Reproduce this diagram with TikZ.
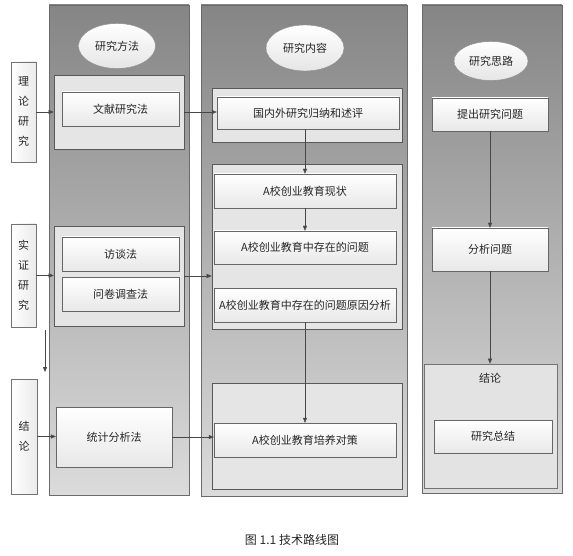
\documentclass[tikz,border=0pt]{standalone}
\usepackage{fontspec}
\newfontfamily\cjk{Noto Sans CJK SC}
\usepackage{tikz}
\usetikzlibrary{arrows.meta,shadows,shapes.geometric}
\definecolor{colgray}{HTML}{858585}
\definecolor{colpale}{HTML}{DBDBDB}
\definecolor{linegray}{HTML}{6A6A6A}
\definecolor{arrowgray}{HTML}{474747}

\begin{document}
\begin{tikzpicture}[x=1pt,y=-1pt,
    every node/.style={font=\cjk\fontsize{11}{20}\selectfont, inner sep=0pt, text=black!85},
    col/.style={draw=linegray, top color=colgray, bottom color=colpale},
    panel/.style={draw=black!65, fill=black!10, line width=0.6pt},
    box/.style={draw=black!60, top color=white, bottom color=black!9, drop shadow={opacity=0.25,shadow xshift=1pt,shadow yshift=-1pt}},
    oval/.style={ellipse, draw=black!45, top color=white, bottom color=black!10},
    side/.style={draw=black!55, left color=white, right color=black!8, align=center},
    arr/.style={draw=arrowgray, -{Triangle[length=5pt,width=4pt]}}]
    \useasboundingbox (0,0) rectangle (573,556);
    % columns
    \node[col, minimum width=140pt, minimum height=490pt] (colA) at (119,250) {};
    \node[col, minimum width=206pt, minimum height=491pt] (colB) at (304,250.5) {};
    \node[col, minimum width=140pt, minimum height=488pt] (colC) at (492,249) {};
    \node[oval, minimum width=77pt, minimum height=45pt] (ffA) at (117,46) {研究方法};
    \node[oval, minimum width=78pt, minimum height=46pt] (ffB) at (305,48) {研究内容};
    \node[oval, minimum width=74pt, minimum height=39pt] (ffC) at (491,61) {研究思路};
    % left labels
    \node[side, minimum width=25pt, minimum height=100pt] (llyj) at (23.5,112) {理\\论\\研\\究};
    \node[side, minimum width=25pt, minimum height=103pt] (szyj) at (23.5,275.5) {实\\证\\研\\究};
    \node[side, minimum width=26pt, minimum height=115pt] (jlun) at (24,436.5) {结\\论};
    % method column
    \node[panel, minimum width=130pt, minimum height=74pt] (pA) at (119,112) {};
    \node[panel, minimum width=130pt, minimum height=100pt] (pB) at (119,276) {};
    \node[box, minimum width=117pt, minimum height=34pt] (wxf) at (120.5,109) {文献研究法};
    \node[box, minimum width=117pt, minimum height=34pt] (ftf) at (120.5,254) {访谈法};
    \node[box, minimum width=117pt, minimum height=34pt] (wjf) at (120.5,294) {问卷调查法};
    \node[box, minimum width=116pt, minimum height=60pt] (tjf) at (114,437) {统计分析法};
    % content column
    \node[panel, minimum width=190pt, minimum height=54pt] (qA) at (307,115) {};
    \node[panel, minimum width=190pt, minimum height=165pt] (qB) at (307,246.5) {};
    \node[panel, minimum width=190pt, minimum height=106pt] (qC) at (307,436) {};
    \node[box, minimum width=182pt, minimum height=32pt] (gnw) at (308,113) {国内外研究归纳和述评};
    \node[box, minimum width=182pt, minimum height=34pt] (xzh) at (305,191) {A校创业教育现状};
    \node[box, minimum width=182pt, minimum height=33pt] (wti) at (305,247.5) {A校创业教育中存在的问题};
    \node[box, minimum width=182pt, minimum height=34pt] (yyf) at (305,305) {A校创业教育中存在的问题原因分析};
    \node[box, minimum width=182pt, minimum height=34pt] (dce) at (305,440) {A校创业教育培养对策};
    % idea column
    \node[box, minimum width=116pt, minimum height=33pt] (tcw) at (490,114.5) {提出研究问题};
    \node[box, minimum width=116pt, minimum height=43pt] (fxw) at (490,249.5) {分析问题};
    \node[panel, fill=black!11, draw=black!55, minimum width=133pt, minimum height=124pt] (jlp) at (490.5,426) {};
    \node (jlt) at (490,378) {结论};
    \node[box, minimum width=118pt, minimum height=33pt] (zjs) at (493,436.5) {研究总结};
    % arrows
    \coordinate (dnA) at (45,330);
    \coordinate (dnB) at (45,372);
    \draw[arr] (llyj.east) -- (llyj.east -| pA.west);
    \draw[arr] (szyj.east) -- (szyj.east -| pB.west);
    \draw[arr] (jlun.east) -- (jlun.east -| tjf.west);
    \draw[arr] (dnA) -- (dnB);
    \draw[arr] (pA.east) -- (pA.east -| gnw.west);
    \draw[arr] (pB.east) -- (pB.east -| qB.west);
    \draw[arr] (tjf.east) -- (tjf.east -| dce.west);
    \draw[arr] (gnw.south -| xzh.north) -- (xzh.north);
    \draw[arr] (xzh.south) -- (wti.north);
    \draw[arr] (yyf.south) -- (dce.north);
    \draw[arr] (tcw.south) -- (fxw.north);
    \draw[arr] (fxw.south) -- (fxw.south |- jlp.north);
    % caption
    \node[font=\cjk\fontsize{12}{14}\selectfont] (cap) at (292,540) {图 1.1 技术路线图};
\end{tikzpicture}
\end{document}
